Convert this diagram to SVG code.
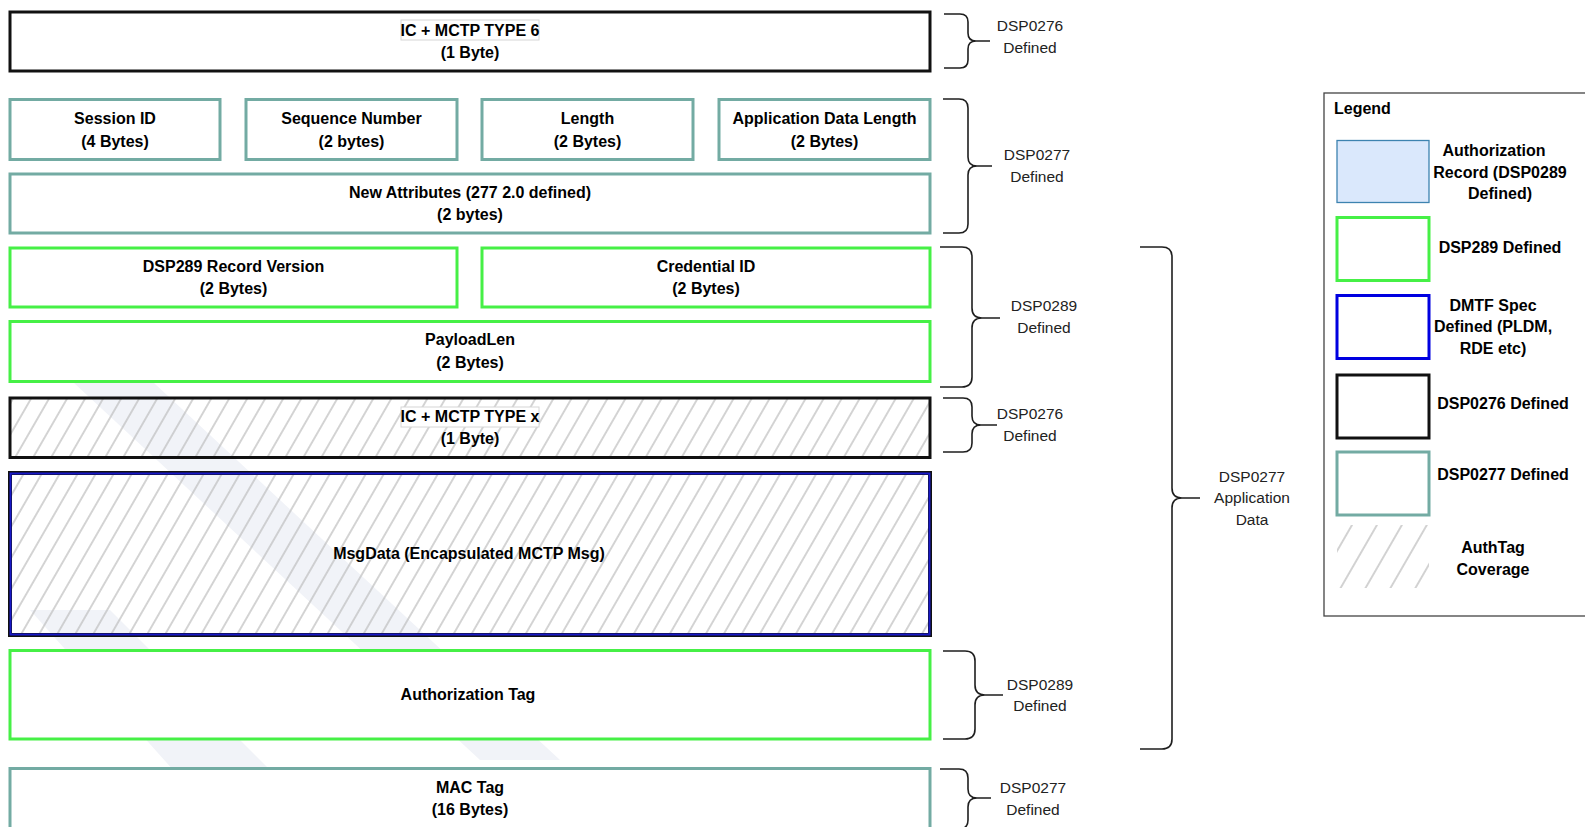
<svg xmlns="http://www.w3.org/2000/svg" width="1585" height="827" viewBox="0 0 1585 827">
<style>
.lbl{font-family:"Liberation Sans",Arial,sans-serif;font-weight:bold;font-size:16px;fill:#000;text-anchor:middle}
.br{font-family:"Liberation Sans",Arial,sans-serif;font-size:15.5px;fill:#222;text-anchor:middle}
.teal{fill:#fff;stroke:#73aba3;stroke-width:3}
.green{fill:#fff;stroke:#46f046;stroke-width:3}
.black{fill:#fff;stroke:#111;stroke-width:3}
.hb{fill:url(#hatch);stroke:#111;stroke-width:3}
.tagbg{fill:#fff;stroke:#d6d6d6;stroke-width:1}
.brace{fill:none;stroke:#1e1e1e;stroke-width:1.6}
</style>
<defs>
<pattern id="hatch" patternUnits="userSpaceOnUse" width="15.6" height="20" patternTransform="rotate(30)">
<line x1="7.8" y1="-2" x2="7.8" y2="22" stroke="#bdbdbd" stroke-width="1.3"/>
</pattern>
<pattern id="hatch2" patternUnits="userSpaceOnUse" width="21.6" height="20" patternTransform="rotate(30 1337 525)">
<line x1="10.8" y1="-2" x2="10.8" y2="22" stroke="#c4c4c4" stroke-width="1.5"/>
</pattern>
</defs>
<rect width="1585" height="827" fill="#fff"/>
<g id="watermark" fill="#f1f3f8">
<polygon points="60,370 140,370 560,760 480,760"/>
<polygon points="30,610 110,610 300,800 200,800"/>
</g>
<g id="n-ic6">
<rect class="black" x="10" y="12" width="920" height="59"/>
<rect class="tagbg" x="401" y="20" width="138" height="20"/>
<text class="lbl" x="470" y="35.5">IC + MCTP TYPE 6</text>
<text class="lbl" x="470" y="57.5">(1 Byte)</text>
</g>
<g id="n-session">
<rect class="teal" x="10" y="99.5" width="210" height="60"/>
<text class="lbl" x="115" y="124">Session ID</text>
<text class="lbl" x="115" y="146.5">(4 Bytes)</text>
</g>
<g id="n-seq">
<rect class="teal" x="246" y="99.5" width="211" height="60"/>
<text class="lbl" x="351.5" y="124">Sequence Number</text>
<text class="lbl" x="351.5" y="146.5">(2 bytes)</text>
</g>
<g id="n-length">
<rect class="teal" x="482" y="99.5" width="211" height="60"/>
<text class="lbl" x="587.5" y="124">Length</text>
<text class="lbl" x="587.5" y="146.5">(2 Bytes)</text>
</g>
<g id="n-appdatalen">
<rect class="teal" x="719" y="99.5" width="211" height="60"/>
<text class="lbl" x="824.5" y="124">Application Data Length</text>
<text class="lbl" x="824.5" y="146.5">(2 Bytes)</text>
</g>
<g id="n-newattr">
<rect class="teal" x="10" y="174" width="920" height="59"/>
<text class="lbl" x="470" y="197.8">New Attributes (277 2.0 defined)</text>
<text class="lbl" x="470" y="220">(2 bytes)</text>
</g>
<g id="n-recver">
<rect class="green" x="10" y="248" width="447" height="59"/>
<text class="lbl" x="233.5" y="271.5">DSP289 Record Version</text>
<text class="lbl" x="233.5" y="293.7">(2 Bytes)</text>
</g>
<g id="n-credid">
<rect class="green" x="482" y="248" width="448" height="59"/>
<text class="lbl" x="706" y="271.5">Credential ID</text>
<text class="lbl" x="706" y="293.7">(2 Bytes)</text>
</g>
<g id="n-payloadlen">
<rect class="green" x="10" y="321.5" width="920" height="60"/>
<text class="lbl" x="470" y="345.3">PayloadLen</text>
<text class="lbl" x="470" y="367.6">(2 Bytes)</text>
</g>
<g id="n-icx">
<rect class="hb" x="10" y="398" width="920" height="59.5"/>
<rect class="tagbg" x="401" y="407" width="138" height="20"/>
<text class="lbl" x="470" y="421.5">IC + MCTP TYPE x</text>
<text class="lbl" x="470" y="444.4">(1 Byte)</text>
</g>
<g id="n-msgdata">
<rect x="10" y="473" width="920" height="162" fill="url(#hatch)" stroke="#111" stroke-width="4"/>
<rect x="10.5" y="473.5" width="919" height="161" fill="none" stroke="#1818c8" stroke-width="2"/>
<text class="lbl" x="469" y="558.7">MsgData (Encapsulated MCTP Msg)</text>
</g>
<g id="n-authtag">
<rect class="green" x="10" y="650.5" width="920" height="88.5"/>
<text class="lbl" x="468" y="700.2">Authorization Tag</text>
</g>
<g id="n-mactag">
<rect class="teal" x="10" y="768.5" width="920" height="60"/>
<text class="lbl" x="470" y="793.2">MAC Tag</text>
<text class="lbl" x="470" y="815.4">(16 Bytes)</text>
</g>
<g id="connectors">
<path class="brace" d="M944,14 L960,14 Q968,14 968,22 L968,33 Q968,41 976,41 L990,41 M976,41 Q968,41 968,49 L968,60 Q968,68 960,68 L944,68"/>
<path class="brace" d="M943,99 L959,99 Q968,99 968,108 L968,157 Q968,166 977,166 L992,166 M977,166 Q968,166 968,175 L968,224 Q968,233 959,233 L943,233"/>
<path class="brace" d="M940,247 L962,247 Q972,247 972,257 L972,308 Q972,318 982,318 L1000,318 M982,318 Q972,318 972,328 L972,377 Q972,387 962,387 L940,387"/>
<path class="brace" d="M943,398 L963,398 Q972,398 972,407 L972,416 Q972,425 981,425 L997,425 M981,425 Q972,425 972,434 L972,443 Q972,452 963,452 L943,452"/>
<path class="brace" d="M1140,247 L1162,247 Q1172,247 1172,257 L1172,488 Q1172,498 1182,498 L1200,498 M1182,498 Q1172,498 1172,508 L1172,739 Q1172,749 1162,749 L1140,749"/>
<path class="brace" d="M943,651 L965,651 Q975,651 975,661 L975,685 Q975,695 985,695 L1003,695 M985,695 Q975,695 975,705 L975,729 Q975,739 965,739 L943,739"/>
<path class="brace" d="M940,769 L959,769 Q968,769 968,778 L968,789 Q968,798 977,798 L991,798 M977,798 Q968,798 968,807 L968,820 Q968,829 959,829 L940,829"/>
</g>
<g id="brace-labels">
<text class="br" x="1030" y="30.8">DSP0276</text>
<text class="br" x="1030" y="53">Defined</text>
<text class="br" x="1037" y="160.2">DSP0277</text>
<text class="br" x="1037" y="182.4">Defined</text>
<text class="br" x="1044" y="310.8">DSP0289</text>
<text class="br" x="1044" y="333">Defined</text>
<text class="br" x="1030" y="418.9">DSP0276</text>
<text class="br" x="1030" y="441.2">Defined</text>
<text class="br" x="1252" y="481.5">DSP0277</text>
<text class="br" x="1252" y="503">Application</text>
<text class="br" x="1252" y="524.5">Data</text>
<text class="br" x="1040" y="689.8">DSP0289</text>
<text class="br" x="1040" y="711">Defined</text>
<text class="br" x="1033" y="792.9">DSP0277</text>
<text class="br" x="1033" y="815.2">Defined</text>
</g>
<g id="legend">
<rect x="1324" y="93" width="300" height="523" fill="#fff" stroke="#444" stroke-width="1.3"/>
<text class="lbl" x="1334" y="114" style="text-anchor:start">Legend</text>
<rect x="1337" y="140.5" width="92" height="62" fill="#dae8fc" stroke="#3d83b0" stroke-width="1.3"/>
<text class="lbl" x="1494" y="156.3">Authorization</text>
<text class="lbl" x="1500" y="177.5">Record (DSP0289</text>
<text class="lbl" x="1500" y="198.7">Defined)</text>
<rect class="green" x="1337" y="217.5" width="92" height="63"/>
<text class="lbl" x="1500" y="253.3">DSP289 Defined</text>
<rect x="1337" y="295.5" width="92" height="63" fill="#fff" stroke="#0000e0" stroke-width="3"/>
<text class="lbl" x="1493" y="310.7">DMTF Spec</text>
<text class="lbl" x="1493" y="332.2">Defined (PLDM,</text>
<text class="lbl" x="1493" y="354.4">RDE etc)</text>
<rect class="black" x="1337" y="375" width="92" height="63"/>
<text class="lbl" x="1503" y="408.7">DSP0276 Defined</text>
<rect class="teal" x="1337" y="452" width="92" height="63"/>
<text class="lbl" x="1503" y="479.7">DSP0277 Defined</text>
<rect x="1337" y="525" width="92" height="63" fill="url(#hatch2)"/>
<text class="lbl" x="1493" y="552.7">AuthTag</text>
<text class="lbl" x="1493" y="574.7">Coverage</text>
</g>
</svg>
